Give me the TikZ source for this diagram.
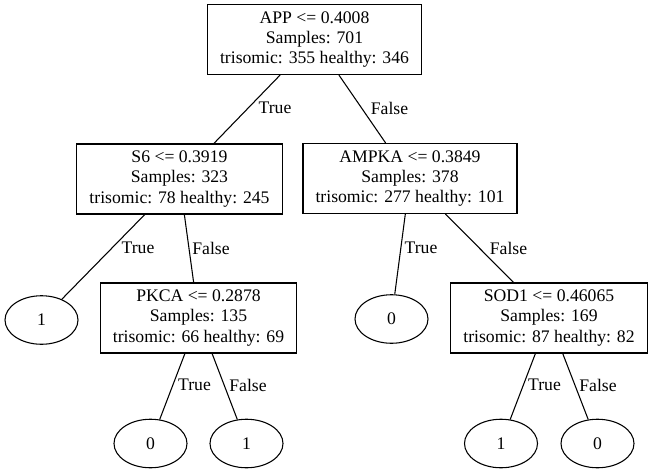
\documentclass[tikz,border=0pt]{standalone}
\usepackage{fontspec}
\setmainfont{Liberation Serif}
\usetikzlibrary{shapes.geometric}

\begin{document}
\begin{tikzpicture}[x=0.75pt, y=-0.75pt, line width=0.8pt,
  split/.style={draw, rectangle, align=center, inner xsep=9.4pt, inner ysep=0pt,
    minimum height=52.5pt, font=\fontsize{13.25}{15.3}\selectfont},
  leaf/.style={draw, ellipse, inner sep=0pt, minimum width=54.75pt,
    minimum height=36.4pt, font=\fontsize{13.25}{15.3}\selectfont},
  branch/.style={inner sep=0pt, font=\fontsize{13.25}{15.3}\selectfont}]
\useasboundingbox (0,0) rectangle (651,475);

%\draw [help lines, step=50] (0,0) grid (651,475);

\node [split] (app) at (314.5,39.5) {APP <= 0.4008\\Samples: 701\\trisomic: 355 healthy: 346};

\node [split] (s6) at (179.5,179) {S6 <= 0.3919\\Samples: 323\\trisomic: 78 healthy: 245};
\node [split] (ampka) at (410,178.5) {AMPKA <= 0.3849\\Samples: 378\\trisomic: 277 healthy: 101};

\node [leaf] (leafa) at (41.5,320) {1};
\node [split] (pkca) at (198.5,318) {PKCA <= 0.2878\\Samples: 135\\trisomic: 66 healthy: 69};
\node [leaf] (leafb) at (391.5,319) {0};
\node [split] (sod1) at (549,318) {SOD1 <= 0.46065\\Samples: 169\\trisomic: 87 healthy: 82};

\node [leaf] (leafc) at (150.5,443.5) {0};
\node [leaf] (leafd) at (246.5,443.5) {1};
\node [leaf] (leafe) at (501,443.5) {1};
\node [leaf] (leaff) at (597.5,443.5) {0};

\draw (app) -- (s6);
\draw (app) -- (ampka);
\node [branch] (t1) at (275,108) {True};
\node [branch] (f1) at (389.5,108) {False};

\draw (s6) -- (leafa);
\draw (s6) -- (pkca);
\node [branch] (t2) at (138,248) {True};
\node [branch] (f2) at (211,248) {False};

\draw (ampka) -- (leafb);
\draw (ampka) -- (sod1);
\node [branch] (t3) at (421,248) {True};
\node [branch] (f3) at (508.5,248) {False};

\draw (pkca) -- (leafc);
\draw (pkca) -- (leafd);
\node [branch] (t4) at (194.5,385) {True};
\node [branch] (f4) at (248,385) {False};

\draw (sod1) -- (leafe);
\draw (sod1) -- (leaff);
\node [branch] (t5) at (544.5,385) {True};
\node [branch] (f5) at (598,385) {False};

\end{tikzpicture}
\end{document}
